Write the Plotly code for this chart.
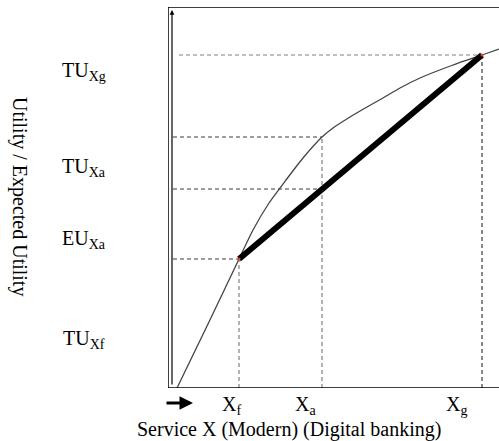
import plotly.graph_objects as go

# ---- data (chart units) ----
curve_x = [9, 40, 71, 85, 101, 118, 135, 154, 165, 182, 199, 215, 232, 252, 285, 314, 331]
curve_y = [0, 64, 129, 158, 185, 208, 230, 251, 260, 271, 281, 290, 300, 310, 323, 333, 339]

X_f, X_a, X_g = 71, 154, 314
TU_Xf, TU_Xa, TU_Xg = 129, 251, 333
EU_Xa = 199

y_labels = ["TU<sub>Xg</sub>", "TU<sub>Xa</sub>", "EU<sub>Xa</sub>", "TU<sub>Xf</sub>"]
y_label_pos = [316, 221, 148, 49]
x_labels = ["X<sub>f</sub>", "X<sub>a</sub>", "X<sub>g</sub>"]
x_label_pos = [63, 137, 288]

XMAX, YMAX = 331, 381
FONT = "Liberation Serif"
fig = go.Figure()

dark = "#3a3a3a"
grey = "#808080"

def px(v):
    return v / XMAX

def py(v):
    return v / YMAX

def dashed(xs, ys, color):
    fig.add_trace(go.Scatter(x=xs, y=ys, mode="lines",
                             line=dict(color=color, width=1.2, dash="4px,3px"),
                             hoverinfo="skip", showlegend=False))

# horizontal dashed guides
dashed([11, X_g], [TU_Xg, TU_Xg], grey)
dashed([5, X_a], [TU_Xa, TU_Xa], dark)
dashed([5, X_a], [EU_Xa, EU_Xa], dark)
dashed([5, X_f], [TU_Xf, TU_Xf], dark)
# vertical dashed guides
dashed([X_f, X_f], [0, TU_Xf], grey)
dashed([X_a, X_a], [0, TU_Xa], grey)
dashed([X_g, X_g], [0, TU_Xg], dark)

# utility curve
fig.add_trace(go.Scatter(x=curve_x, y=curve_y, mode="lines",
                         line=dict(color="#444444", width=1.3, shape="spline", smoothing=0.5),
                         hoverinfo="skip", showlegend=False))
# chord (expected utility)
fig.add_trace(go.Scatter(x=[X_f, X_g], y=[TU_Xf, TU_Xg], mode="lines",
                         line=dict(color="black", width=6),
                         hoverinfo="skip", showlegend=False))
fig.add_trace(go.Scatter(x=[X_f, X_g], y=[TU_Xf, TU_Xg], mode="markers",
                         marker=dict(color="#e04020", size=3),
                         hoverinfo="skip", showlegend=False))

# frame lines
shapes = [
    dict(type="line", xref="x", yref="y", x0=0, x1=XMAX, y0=YMAX, y1=YMAX, line=dict(color="black", width=1.5)),
    dict(type="line", xref="x", yref="y", x0=0, x1=0, y0=0, y1=YMAX, line=dict(color="black", width=1.5)),
    dict(type="line", xref="x", yref="y", x0=0, x1=XMAX, y0=0, y1=0, line=dict(color="black", width=1.5)),
]

txt_font = dict(family=FONT, size=20, color="black")
annotations = []
# y-axis arrow
annotations.append(dict(x=px(4), y=py(378), xref="paper", yref="paper", ax=0, ay=376,
                        showarrow=True, arrowhead=2, arrowsize=0.8, arrowwidth=1.2,
                        arrowcolor="black", text=""))
# x arrow
annotations.append(dict(x=px(25), y=py(-15), xref="paper", yref="paper", ax=-28, ay=0,
                        showarrow=True, arrowhead=2, arrowsize=0.9, arrowwidth=3,
                        arrowcolor="black", text=""))
for t, yv in zip(y_labels, y_label_pos):
    annotations.append(dict(x=px(-84), y=py(yv), xref="paper", yref="paper", text=t, showarrow=False,
                            font=txt_font, xanchor="center", yanchor="middle"))
for t, xv in zip(x_labels, x_label_pos):
    annotations.append(dict(x=px(xv), y=py(-17), xref="paper", yref="paper", text=t, showarrow=False,
                            font=txt_font, xanchor="center", yanchor="middle"))
annotations.append(dict(x=px(121), y=py(-41), xref="paper", yref="paper",
                        text="Service X (Modern) (Digital banking)",
                        showarrow=False, font=txt_font, xanchor="center", yanchor="middle"))
annotations.append(dict(x=px(-148), y=py(192), xref="paper", yref="paper",
                        text="Utility / Expected Utility",
                        showarrow=False, textangle=90, font=txt_font,
                        xanchor="center", yanchor="middle"))

fig.update_layout(
    width=499, height=441,
    margin=dict(l=168, r=0, t=7, b=53),
    paper_bgcolor="white", plot_bgcolor="white",
    xaxis=dict(range=[0, XMAX], visible=False, fixedrange=True),
    yaxis=dict(range=[0, YMAX], visible=False, fixedrange=True),
    shapes=shapes, annotations=annotations, showlegend=False,
)
fig.write_html("out.html", config={"displayModeBar": False},
               post_script="document.body.style.margin='0';document.body.style.overflow='hidden';")
